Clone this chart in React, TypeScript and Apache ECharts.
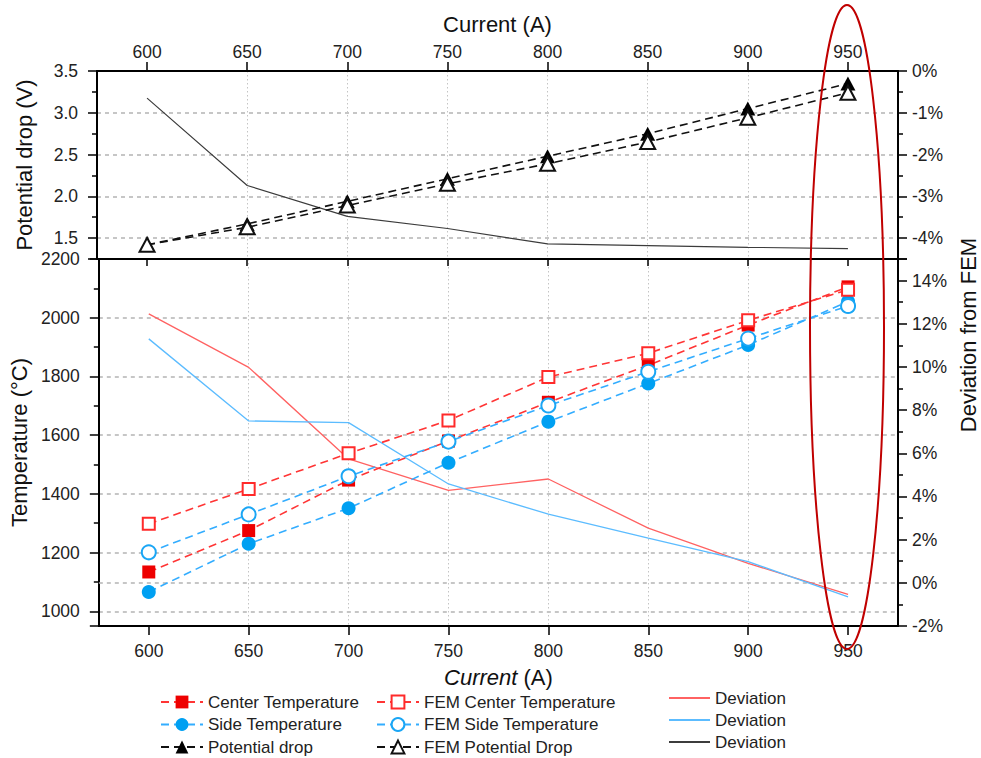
import React, { useEffect, useRef } from 'react';
import * as echarts from 'echarts';

// ---------- data ----------
const currents = [600, 650, 700, 750, 800, 850, 900, 950];
const potentialDrop = [1.42, 1.67, 1.94, 2.21, 2.48, 2.75, 3.05, 3.35];
const femPotentialDrop = [1.42, 1.63, 1.89, 2.15, 2.39, 2.65, 2.94, 3.24];
const potentialDeviation = [-0.65, -2.74, -3.48, -3.77, -4.14, -4.18, -4.22, -4.25];
const centerTemp = [1134, 1275, 1447, 1580, 1712, 1838, 1975, 2105];
const femCenterTemp = [1298, 1417, 1538, 1650, 1798, 1879, 1991, 2095];
const sideTemp = [1066, 1230, 1351, 1506, 1646, 1776, 1907, 2055];
const femSideTemp = [1201, 1330, 1460, 1578, 1701, 1816, 1929, 2040];
const centerDeviation = [12.46, 9.98, 5.74, 4.28, 4.81, 2.53, 0.9, -0.53];
const sideDeviation = [11.3, 7.5, 7.42, 4.58, 3.18, 2.07, 0.98, -0.65];

const legendMeasured = ['Center Temperature', 'Side Temperature', 'Potential drop'];
const legendFem = ['FEM Center Temperature', 'FEM Side Temperature', 'FEM Potential Drop'];
const legendDeviation = ['Deviation (center)', 'Deviation (side)', 'Deviation (potential)'];

// ---------- styles ----------
const font = '"Liberation Sans", Arial, Helvetica, sans-serif';
const xy = (ys: number[]) => currents.map((x, i) => [x, ys[i]]);
const dash = [8, 5];
const axisLineStyle = { color: '#000', width: 2 };
const labelStyle = { color: '#222', fontSize: 17.5, fontFamily: font };
const hGrid = {
  show: true,
  showMinLine: false,
  showMaxLine: false,
  lineStyle: { color: '#b4b4b4', type: [4, 4], width: 1.5 },
};
const vGrid = {
  show: true,
  showMinLine: false,
  showMaxLine: false,
  lineStyle: { color: '#c4c4c4', type: [1.5, 2.5], width: 1 },
};
const xLabelFmt = (v: number) => (v >= 600 && v <= 950 && v % 50 === 0 ? String(v) : '');

function xAxis(gridIndex: number, position: string, extra: any) {
  return {
    type: 'value',
    gridIndex,
    position,
    min: 575,
    max: 975,
    minInterval: 50,
    maxInterval: 50,
    axisLine: { show: true, onZero: false, lineStyle: axisLineStyle },
    axisTick: { show: true, length: 9, lineStyle: { color: '#000', width: 1.5 }, customValues: currents },
    axisLabel: { ...labelStyle, margin: 10, formatter: xLabelFmt, customValues: currents },
    splitLine: vGrid,
    ...extra,
  };
}

function yAxis(gridIndex: number, position: string, extra: any) {
  return {
    type: 'value',
    gridIndex,
    position,
    axisLine: { show: true, onZero: false, lineStyle: axisLineStyle },
    axisTick: { show: true, length: 9, lineStyle: { color: '#000', width: 1.5 } },
    minorTick: { show: true, splitNumber: 2, length: 5, lineStyle: { color: '#000', width: 1.5 } },
    splitLine: { show: false },
    ...extra,
  };
}

const legendText = { color: '#222', fontSize: 17, fontFamily: font, lineHeight: 20 };

const option: any = {
  animation: false,
  backgroundColor: '#fff',
  textStyle: { fontFamily: font },
  grid: [
    { left: 97, right: 83, top: 71, height: 188 },
    { left: 97, right: 83, top: 259, height: 367 },
  ],
  xAxis: [
    xAxis(0, 'top', {
      name: 'Current (A)',
      nameLocation: 'middle',
      nameGap: 36,
      nameTextStyle: { color: '#111', fontSize: 22, fontFamily: font },
    }),
    xAxis(0, 'bottom', {
      axisTick: { show: true, length: 7, lineStyle: { color: '#000', width: 1.5 }, customValues: currents },
      axisLabel: { show: false },
      splitLine: { show: false },
    }),
    xAxis(1, 'bottom', {
      name: '{i|Current} (A)',
      nameLocation: 'middle',
      nameGap: 40,
      nameTextStyle: {
        color: '#111',
        fontSize: 22,
        fontFamily: font,
        rich: { i: { fontStyle: 'italic', fontSize: 22, fontFamily: font, color: '#111' } },
      },
      axisLabel: { ...labelStyle, margin: 16, formatter: xLabelFmt, customValues: currents },
    }),
  ],
  yAxis: [
    yAxis(0, 'left', {
      min: 1.25,
      max: 3.5,
      minInterval: 0.5,
      maxInterval: 0.5,
      name: 'Potential drop (V)',
      nameLocation: 'middle',
      nameGap: 62,
      nameTextStyle: { color: '#111', fontSize: 22, fontFamily: font },
      axisLabel: { ...labelStyle, margin: 19, formatter: (v: number) => (v < 1.4 ? '' : v.toFixed(1)) },
      splitLine: hGrid,
    }),
    yAxis(0, 'right', {
      min: -4.5,
      max: 0,
      minInterval: 1,
      maxInterval: 1,
      axisLabel: { ...labelStyle, margin: 14, formatter: (v: number) => (v < -4.2 ? '' : v + '%') },
    }),
    yAxis(1, 'left', {
      min: 950,
      max: 2200,
      minInterval: 200,
      maxInterval: 200,
      name: 'Temperature (°C)',
      nameLocation: 'middle',
      nameGap: 62,
      nameTextStyle: { color: '#111', fontSize: 22, fontFamily: font },
      axisLabel: { ...labelStyle, margin: 19, formatter: (v: number) => (v < 990 ? '' : String(v)) },
      splitLine: hGrid,
    }),
    yAxis(1, 'right', {
      min: -2,
      max: 15,
      interval: 2,
      axisLabel: { ...labelStyle, margin: 14, formatter: (v: number) => (v > 14.5 ? '' : v + '%') },
    }),
  ],
  legend: [
    {
      orient: 'vertical',
      left: 160,
      top: 692,
      height: 90,
      padding: 0,
      itemWidth: 42,
      itemHeight: 16,
      itemGap: 2.5,
      textStyle: legendText,
      data: legendMeasured,
    },
    {
      orient: 'vertical',
      left: 376,
      top: 692,
      height: 90,
      padding: 0,
      itemWidth: 42,
      itemHeight: 16,
      itemGap: 2.5,
      textStyle: legendText,
      data: legendFem,
    },
    {
      orient: 'vertical',
      left: 669,
      top: 688,
      height: 90,
      padding: 0,
      itemWidth: 41,
      itemHeight: 2,
      itemGap: 2,
      formatter: () => 'Deviation',
      textStyle: legendText,
      data: legendDeviation.map((n) => ({ name: n, icon: 'rect' })),
    },
  ],
  series: [
    {
      name: 'Deviation (potential)',
      type: 'line',
      xAxisIndex: 0,
      yAxisIndex: 1,
      data: xy(potentialDeviation),
      symbol: 'none',
      itemStyle: { color: '#3c3c3c' },
      lineStyle: { color: '#3c3c3c', width: 1.2 },
      z: 2,
    },
    {
      name: 'Deviation (center)',
      type: 'line',
      xAxisIndex: 2,
      yAxisIndex: 3,
      data: xy(centerDeviation),
      symbol: 'none',
      itemStyle: { color: '#ff6262' },
      lineStyle: { color: '#ff6262', width: 1.3 },
      z: 2,
      markLine: {
        silent: true,
        symbol: 'none',
        label: { show: false },
        lineStyle: { color: '#b4b4b4', type: [4, 4], width: 1.5 },
        data: [{ yAxis: 0 }],
        z: 1,
      },
    },
    {
      name: 'Deviation (side)',
      type: 'line',
      xAxisIndex: 2,
      yAxisIndex: 3,
      data: xy(sideDeviation),
      symbol: 'none',
      itemStyle: { color: '#5cbcff' },
      lineStyle: { color: '#5cbcff', width: 1.3 },
      z: 2,
    },
    {
      name: 'Potential drop',
      type: 'line',
      xAxisIndex: 0,
      yAxisIndex: 0,
      data: xy(potentialDrop),
      symbol: 'triangle',
      symbolSize: [15, 14],
      itemStyle: { color: '#000' },
      lineStyle: { color: '#111', width: 1.6, type: dash },
      z: 3,
    },
    {
      name: 'Center Temperature',
      type: 'line',
      xAxisIndex: 2,
      yAxisIndex: 2,
      data: xy(centerTemp),
      symbol: 'rect',
      symbolSize: 13,
      itemStyle: { color: '#ee0000' },
      lineStyle: { color: '#ff3535', width: 1.6, type: dash },
      z: 3,
    },
    {
      name: 'Side Temperature',
      type: 'line',
      xAxisIndex: 2,
      yAxisIndex: 2,
      data: xy(sideTemp),
      symbol: 'circle',
      symbolSize: 14,
      itemStyle: { color: '#00a0f2' },
      lineStyle: { color: '#33adff', width: 1.6, type: dash },
      z: 3,
    },
    {
      name: 'FEM Potential Drop',
      type: 'line',
      xAxisIndex: 0,
      yAxisIndex: 0,
      data: xy(femPotentialDrop),
      symbol: 'emptyTriangle',
      symbolSize: [15, 14],
      itemStyle: { color: '#111', borderWidth: 1.3 },
      lineStyle: { color: '#111', width: 1.6, type: dash },
      z: 4,
    },
    {
      name: 'FEM Center Temperature',
      type: 'line',
      xAxisIndex: 2,
      yAxisIndex: 2,
      data: xy(femCenterTemp),
      symbol: 'emptyRect',
      symbolSize: 12,
      itemStyle: { color: '#ff2a2a', borderWidth: 1.5 },
      lineStyle: { color: '#ff3535', width: 1.6, type: dash },
      z: 4,
    },
    {
      name: 'FEM Side Temperature',
      type: 'line',
      xAxisIndex: 2,
      yAxisIndex: 2,
      data: xy(femSideTemp),
      symbol: 'emptyCircle',
      symbolSize: 14,
      itemStyle: { color: '#1aa6f5', borderWidth: 1.5 },
      lineStyle: { color: '#33adff', width: 1.6, type: dash },
      z: 4,
    },
  ],
  graphic: [
    {
      type: 'text',
      x: 968,
      y: 335,
      rotation: Math.PI / 2,
      style: {
        text: 'Deviation from FEM',
        fill: '#111',
        font: `22px ${font}`,
        align: 'center',
        verticalAlign: 'middle',
      },
    },
    {
      type: 'ellipse',
      shape: { cx: 847, cy: 327, rx: 37, ry: 322 },
      style: { fill: 'none', stroke: '#c00000', lineWidth: 2 },
      z: 100,
    },
  ],
};

export default function App() {
  const ref = useRef<HTMLDivElement>(null);
  useEffect(() => {
    const chart = echarts.init(ref.current as HTMLDivElement, null, { renderer: 'svg' });
    chart.setOption(option);
    return () => chart.dispose();
  }, []);
  return (
    <div
      ref={ref}
      style={{ position: 'fixed', left: 0, top: 0, width: 981, height: 758, background: '#fff' }}
    />
  );
}
